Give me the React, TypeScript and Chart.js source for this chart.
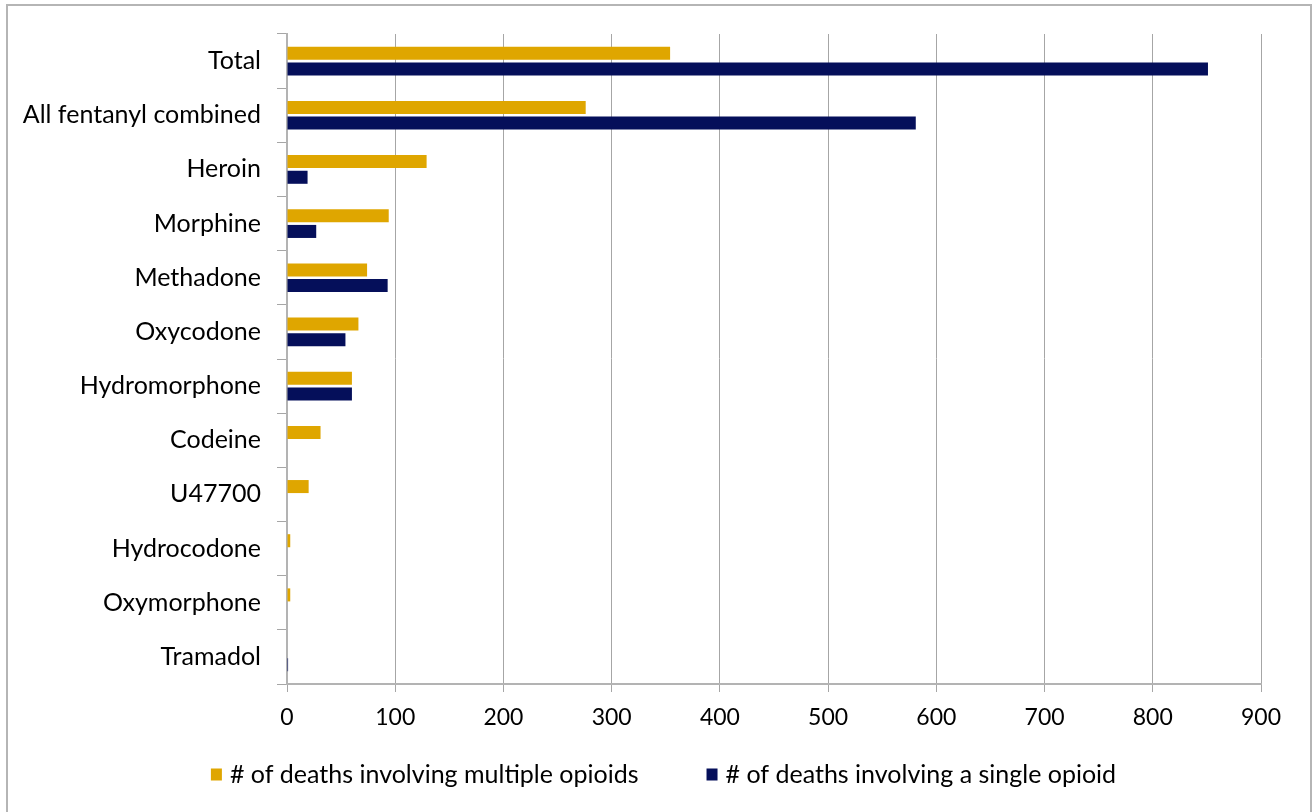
import React, { useEffect, useRef } from 'react';
import { Chart, registerables } from 'chart.js';

Chart.register(...registerables);

const categories = [
  'Total',
  'All fentanyl combined',
  'Heroin',
  'Morphine',
  'Methadone',
  'Oxycodone',
  'Hydromorphone',
  'Codeine',
  'U47700',
  'Hydrocodone',
  'Oxymorphone',
  'Tramadol',
];
const multipleOpioids = [354, 276, 129, 94, 74, 66, 60, 31, 20, 3, 3, 0];
const singleOpioid = [851, 581, 19, 27, 93, 54, 60, 0, 0, 0, 0, 1];
const seriesLabels = [
  '# of deaths involving multiple opioids',
  '# of deaths involving a single opioid',
];
const seriesColors = ['#DFA600', '#050F5A'];
const xMin = 0;
const xMax = 900;
const xStep = 100;

const FONT = 'Lato, "Open Sans", sans-serif';
const FS_LABEL = 25;
const FS_TICK = 23;

const legendPlugin = {
  id: 'bottomLegend',
  afterDraw(chart: any) {
    const ctx = chart.ctx;
    ctx.save();
    ctx.font = `${FS_LABEL}px ${FONT}`;
    const box = 11;
    const boxGap = 8;
    const itemGap = 68;
    const items = chart.data.datasets.map((ds: any) => ({
      label: ds.label,
      color: ds.backgroundColor,
      w: ctx.measureText(ds.label).width,
    }));
    const total =
      items.reduce((s: number, it: any) => s + box + boxGap + it.w, 0) +
      itemGap * (items.length - 1);
    let x = chart.width / 2 + 7 - total / 2;
    const y = chart.height - 37;
    ctx.textBaseline = 'middle';
    ctx.textAlign = 'left';
    items.forEach((it: any) => {
      ctx.fillStyle = it.color;
      ctx.fillRect(x, y - box / 2 - 1, box, box + 1);
      x += box + boxGap;
      ctx.fillStyle = '#000';
      ctx.fillText(it.label, x, y);
      x += it.w + itemGap;
    });
    ctx.restore();
  },
};

export default function App() {
  const ref = useRef<HTMLCanvasElement>(null);
  useEffect(() => {
    if (!ref.current) return;
    const chart = new Chart(ref.current, {
      type: 'bar',
      data: {
        labels: categories,
        datasets: [
          {
            label: seriesLabels[0],
            data: multipleOpioids,
            backgroundColor: seriesColors[0],
            categoryPercentage: 0.58,
            barPercentage: 0.83,
          },
          {
            label: seriesLabels[1],
            data: singleOpioid,
            backgroundColor: seriesColors[1],
            categoryPercentage: 0.58,
            barPercentage: 0.83,
          },
        ],
      },
      options: {
        indexAxis: 'y',
        animation: false,
        responsive: true,
        maintainAspectRatio: false,
        layout: { padding: { left: 0, right: 52, top: 34, bottom: 80 } },
        plugins: {
          legend: { display: false },
          tooltip: { enabled: false },
        },
        scales: {
          x: {
            min: xMin,
            max: xMax,
            ticks: {
              stepSize: xStep,
              color: '#000',
              font: { family: FONT, size: FS_TICK },
              padding: 12,
            },
            grid: {
              color: '#a6a6a6',
              lineWidth: 1,
              tickLength: 8,
              drawTicks: true,
            },
            border: { color: '#b3b3b3', width: 2 },
            afterFit: (scale: any) => {
              scale.height = 48;
            },
          },
          y: {
            ticks: {
              color: '#000',
              font: { family: FONT, size: FS_LABEL },
              padding: 16,
            },
            grid: {
              offset: true,
              drawOnChartArea: false,
              drawTicks: true,
              tickLength: 10,
              color: '#a6a6a6',
            },
            border: { color: '#b3b3b3', width: 2 },
            afterFit: (scale: any) => {
              scale.width = 287;
            },
          },
        },
      },
      plugins: [legendPlugin],
    });
    return () => chart.destroy();
  }, []);

  return (
    <div style={{ position: 'absolute', left: 0, top: 0, width: 1313, height: 812, overflow: 'hidden', background: '#fff' }}>
      <div
        style={{
          position: 'absolute',
          left: 6,
          top: 4,
          width: 1306,
          height: 840,
          border: '2px solid #b5b5b5',
          boxSizing: 'border-box',
        }}
      />
      <div style={{ position: 'absolute', left: 0, top: 0, width: 1313, height: 812 }}>
        <canvas ref={ref} />
      </div>
    </div>
  );
}
